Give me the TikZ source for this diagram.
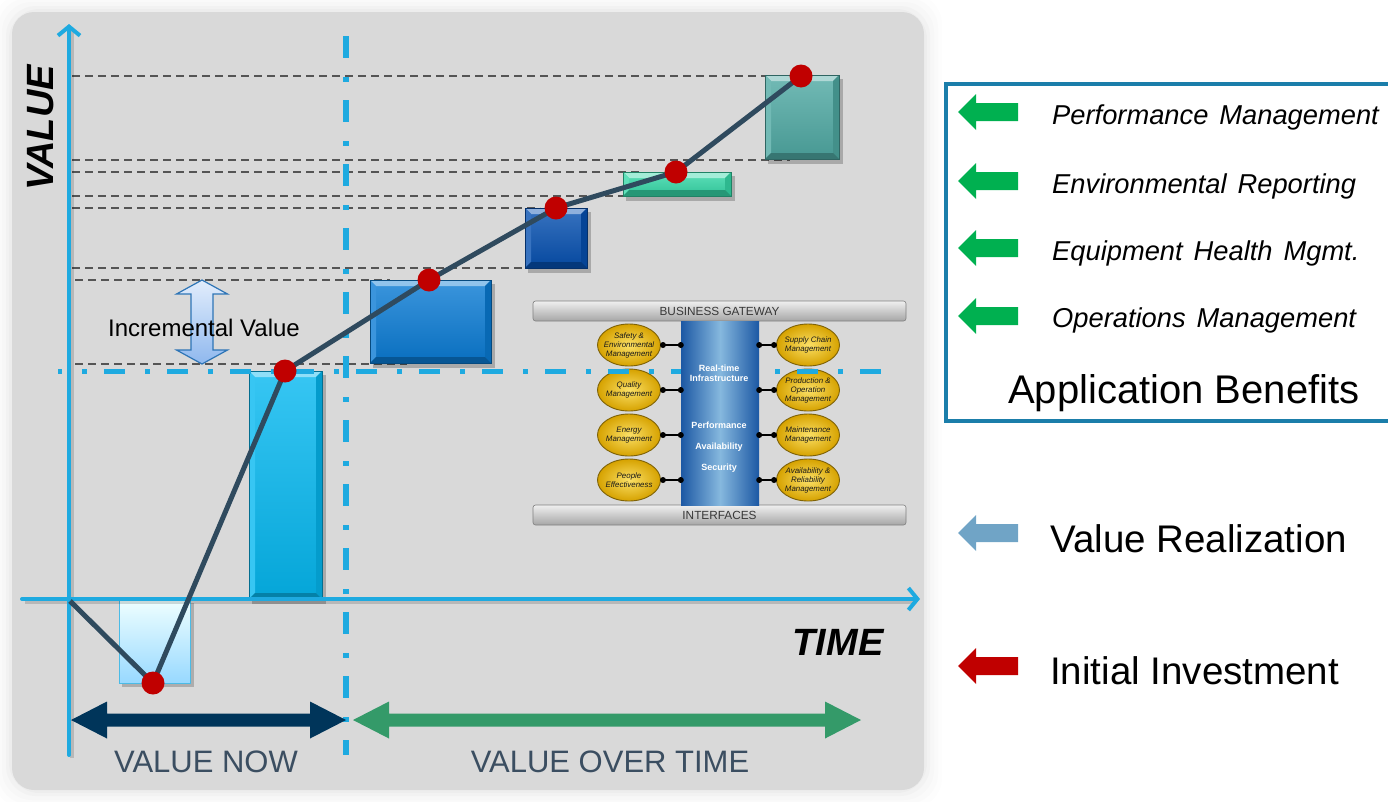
\documentclass[tikz,border=0pt]{standalone}
\usepackage{fontspec}
\setmainfont{Liberation Sans}
\usetikzlibrary{arrows.meta,shapes.geometric,calc}

\definecolor{panel}{HTML}{D9D9D9}
\definecolor{axisblue}{HTML}{1EAAE0}
\definecolor{gridgray}{HTML}{555555}
\definecolor{curve}{HTML}{2F4A5E}
\definecolor{dotred}{HTML}{C00000}
\definecolor{barcyan}{HTML}{05B8F0}
\definecolor{barblue}{HTML}{0A7BD4}
\definecolor{bardark}{HTML}{0650B0}
\definecolor{barmint}{HTML}{36D8A8}
\definecolor{barteal}{HTML}{4FA9A3}
\definecolor{navy}{HTML}{00355A}
\definecolor{spangreen}{HTML}{349A69}
\definecolor{spantext}{HTML}{3B4E61}
\definecolor{legendframe}{HTML}{1B7EAA}
\definecolor{benefitgreen}{HTML}{00B050}
\definecolor{realblue}{HTML}{70A4C6}
\definecolor{investred}{HTML}{C00000}
\definecolor{incfill}{HTML}{E2EDFC}
\definecolor{incfilldark}{HTML}{8FB8EE}
\definecolor{incedge}{HTML}{2E75B6}
\definecolor{gold}{HTML}{D6A200}
\definecolor{goldlight}{HTML}{FBE066}
\definecolor{goldedge}{HTML}{7E6208}
\definecolor{colblue}{HTML}{1C58A4}
\definecolor{collight}{HTML}{86B8DE}

% wider word spacing for the benefit captions
\newcommand{\widewords}{\spaceskip=11pt\relax}

% bevelled bar: x1, y1 (top), x2, y2 (bottom), colour
\newcommand{\bevbox}[5]{%
  \fill[black,opacity=0.22] ({#1+3},{#2+4}) rectangle ({#3+4},{#4+5});
  \shade[top color=#5!80!white, bottom color=#5!90!black] (#1,#2) rectangle (#3,#4);
  \fill[#5!45!white] (#1,#2) -- (#3,#2) -- ({#3-6},{#2+6}) -- ({#1+6},{#2+6}) -- cycle;
  \fill[#5!80!white] (#1,#2) -- ({#1+6},{#2+6}) -- ({#1+6},{#4-6}) -- (#1,#4) -- cycle;
  \fill[#5!85!black] (#3,#2) -- ({#3-6},{#2+6}) -- ({#3-6},{#4-6}) -- (#3,#4) -- cycle;
  \fill[#5!70!black] (#1,#4) -- ({#1+6},{#4-6}) -- ({#3-6},{#4-6}) -- (#3,#4) -- cycle;
  \draw[#5!60!black, line width=0.8] (#1,#2) rectangle (#3,#4);
}

% horizontal double block arrow: left tip x, right tip x, y, colour
\newcommand{\spanarrow}[4]{%
  \fill[#4] (#1,#3) -- ({#1+36},{#3-18.5}) -- ({#1+36},{#3-6.5}) -- ({#2-36},{#3-6.5})
    -- ({#2-36},{#3-18.5}) -- (#2,#3) -- ({#2-36},{#3+18.5}) -- ({#2-36},{#3+6.5})
    -- ({#1+36},{#3+6.5}) -- ({#1+36},{#3+18.5}) -- cycle;
}

% left-pointing legend arrow: y centre, colour
\newcommand{\keyarrow}[2]{%
  \fill[#2] (958,#1) -- (976,{#1-18}) -- (976,{#1-9}) -- (1018,{#1-9})
    -- (1018,{#1+9}) -- (976,{#1+9}) -- (976,{#1+18}) -- cycle;
}

\tikzset{
  gridline/.style={gridgray, line width=1.7, dash pattern=on 8pt off 5pt},
  axisline/.style={axisblue, line width=4, line cap=round,
    -{Straight Barb[length=9pt,width=22pt]}},
  gatebar/.style={draw=black!50, rounded corners=2.5, top color=black!6,
    bottom color=black!35, line width=0.6, minimum width=373, minimum height=20,
    inner sep=0, font=\fontsize{11.8}{13}\selectfont, text=black!78},
  goldell/.style={ellipse, minimum width=63, minimum height=42, inner sep=0,
    draw=goldedge, line width=0.9, inner color=goldlight, outer color=gold},
  elltext/.style={font=\itshape\fontsize{7.9}{9}\selectfont, align=center, text=black!90},
  colnode/.style={rectangle, minimum width=78, minimum height=184, inner sep=0,
    left color=colblue, right color=colblue, middle color=collight},
  coltext/.style={font=\bfseries\fontsize{9}{11}\selectfont, text=white, align=center},
  conn/.style={line width=1.6, black},
  benefit/.style={anchor=base west, inner sep=0,
    font=\itshape\fontsize{27.3}{32}\selectfont\widewords},
  keytext/.style={anchor=base west, inner sep=0, font=\fontsize{38.5}{44}\selectfont},
  spanlabel/.style={font=\fontsize{31}{36}\selectfont, text=spantext},
}

\begin{document}
\begin{tikzpicture}[x=1pt,y=-1pt]
\useasboundingbox (0,0) rectangle (1388,801);

% soft grey panel
\foreach \d/\op in {18/0.06,14/0.08,10/0.10,6/0.14,3/0.2}
  \fill[black!15, opacity=\op, rounded corners=30] ({12-\d},{12-\d}) rectangle ({924+\d},{790+\d});
\fill[panel, rounded corners=22] (12,12) rectangle (924,790);

% value levels
\draw[gridline] (72,76) -- (790,76);
\draw[gridline] (72,160) -- (790,160);
\draw[gridline] (72,172) -- (640,172);
\draw[gridline] (72,196) -- (645,196);
\draw[gridline] (72,208) -- (540,208);
\draw[gridline] (72,268) -- (537,268);
\draw[gridline] (75,280) -- (390,280);
\draw[gridline] (75,364) -- (407,364);

% initial investment bar
\fill[black,opacity=0.2] (122,603) rectangle (194,687);
\shade[top color=white!75!cyan!25, bottom color=cyan!30!white!85!blue, draw=axisblue!80, line width=0.8]
  (119,599) rectangle (190,683);

% value bars
\bevbox{249}{371}{322}{599}{barcyan}
\bevbox{370}{280}{491}{363}{barblue}
\bevbox{525}{208}{587}{268}{bardark}
\bevbox{623}{172}{731}{196}{barmint}
\bevbox{765}{75}{839}{159}{barteal}

% business gateway architecture
\node[gatebar] (gateway) at (719.5,311) {BUSINESS GATEWAY};
\node[gatebar] (interfaces) at (719.5,515) {INTERFACES};
\foreach \i/\y/\txt in {1/345/{Safety \&\\Environmental\\Management},
                        2/390/{Quality\\Management},
                        3/435/{Energy\\Management},
                        4/480/{People\\Effectiveness}} {
  \node[goldell] (L\i) at (629,\y) {};
  \node[elltext] at (L\i) {\txt};
}
\foreach \i/\y/\txt in {1/345/{Supply Chain\\Management},
                        2/390/{Production \&\\Operation\\Management},
                        3/435/{Maintenance\\Management},
                        4/480/{Availability \&\\Reliability\\Management}} {
  \node[goldell] (R\i) at (808,\y) {};
  \node[elltext] at (R\i) {\txt};
}

% target lines
\draw[axisblue, line width=5.5, dash pattern=on 22pt off 19pt on 5pt off 18pt] (346,36) -- (346,755);
\draw[axisblue, line width=5, dash pattern=on 5pt off 17pt on 21pt off 20pt, dash phase=39pt] (58,371) -- (882,371);

% infrastructure column
\node[colnode] (col) at (720,413) {};
\node[coltext] at (719,373) {Real-time\\[-1pt]Infrastructure};
\node[coltext] at (719,425) {Performance};
\node[coltext] at (719,447) {Availability};
\node[coltext] at (719,468) {Security};
\foreach \i in {1,...,4} {
  \coordinate (la\i) at ($(L\i.east)+(2,0)$);
  \coordinate (lb\i) at (L\i.east -| col.west);
  \coordinate (ra\i) at ($(R\i.west)+(-2,0)$);
  \coordinate (rb\i) at (R\i.west -| col.east);
  \draw[conn] (la\i) -- (lb\i);
  \draw[conn] (rb\i) -- (ra\i);
  \fill (la\i) circle (3); \fill (lb\i) circle (3);
  \fill (ra\i) circle (3); \fill (rb\i) circle (3);
}

% axes
\draw[black, opacity=0.15, line width=4] (72,758) -- (72,30);
\draw[black, opacity=0.15, line width=4] (25,602) -- (915,602);
\draw[axisline] (69,755) -- (69,24);
\draw[axisline] (22,599) -- (920,599);

% cumulative value curve
\coordinate (p0) at (70,601);
\coordinate (p1) at (153,683);
\coordinate (p2) at (285,371);
\coordinate (p3) at (429,280);
\coordinate (p4) at (556,208);
\coordinate (p5) at (676,172);
\coordinate (p6) at (801,76);
\draw[curve, line width=5, line join=round] (p0) -- (p1) -- (p2) -- (p3) -- (p4) -- (p5) -- (p6);
\foreach \p in {p1,p2,p3,p4,p5,p6} \fill[dotred] (\p) circle (11.5);

% incremental value marker
\path[top color=incfill, bottom color=incfilldark, draw=incedge, line width=1.2]
  (202,280) -- (227.5,294) -- (213,294) -- (213,350) -- (227.5,350) -- (202,364)
  -- (176.5,350) -- (191,350) -- (191,294) -- (176.5,294) -- cycle;
\node[font=\fontsize{24}{28}\selectfont] (inc) at (204,328) {Incremental Value};

% axis titles
\node[rotate=90, font=\bfseries\itshape\fontsize{38}{44}\selectfont] (vlabel) at (41,128) {VALUE};
\node[font=\bfseries\itshape\fontsize{38}{44}\selectfont] (tlabel) at (838,642) {TIME};

% time spans
\spanarrow{71}{346}{720}{navy}
\spanarrow{353}{861}{720}{spangreen}
\node[spanlabel] (now) at (206,762) {VALUE NOW};
\node[spanlabel] (over) at (610,762) {VALUE OVER TIME};

% key
\draw[legendframe, line width=4] (946,84) rectangle (1400,421);
\keyarrow{112}{benefitgreen}
\keyarrow{181}{benefitgreen}
\keyarrow{248}{benefitgreen}
\keyarrow{316}{benefitgreen}
\node[benefit] (k1) at (1052,124) {Performance Management};
\node[benefit] (k2) at (1052,193) {Environmental Reporting};
\node[benefit] (k3) at (1052,260) {Equipment Health Mgmt.};
\node[benefit] (k4) at (1052,327) {Operations Management};
\node[anchor=base west, inner sep=0, font=\fontsize{40}{46}\selectfont] (kb) at (1008,403) {Application Benefits};
\keyarrow{533}{realblue}
\keyarrow{666}{investred}
\node[keytext] (kr) at (1050,552) {Value Realization};
\node[keytext] (ki) at (1050,684) {Initial Investment};
\end{tikzpicture}
\end{document}
